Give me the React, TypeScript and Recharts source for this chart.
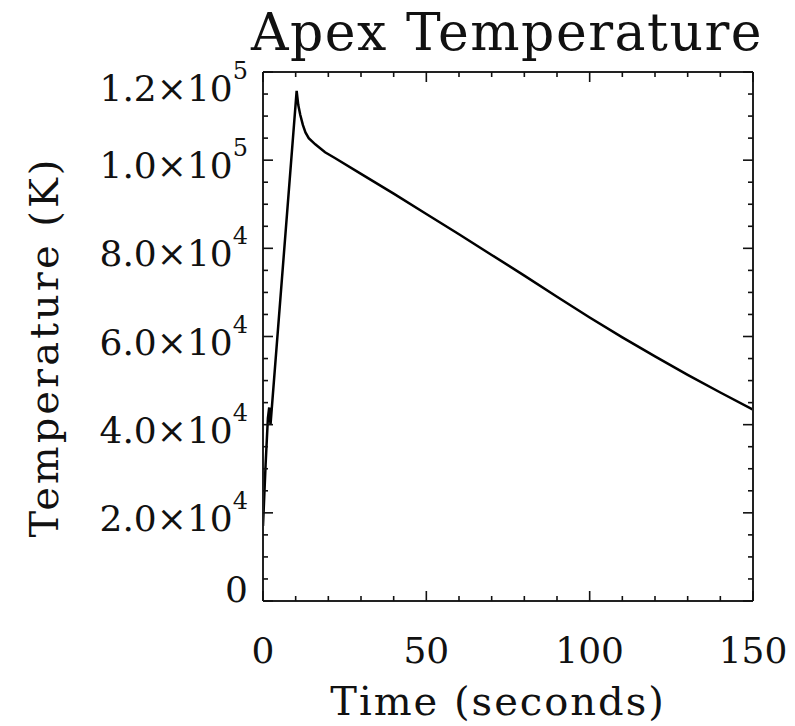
import React from "react";
import { LineChart, Line, XAxis, YAxis } from "recharts";

const timeSeconds = [0, 0.8, 1.5, 1.9, 2.3, 10.3, 10.8, 11.4, 12.2, 13, 14, 16, 19, 22, 30, 40, 50, 60, 70, 80, 90, 100, 110, 120, 130, 140, 150];
const apexTemperature = [17000, 31000, 41500, 43900, 40000, 115700, 112500, 110300, 108000, 106300, 105000, 103600, 101800, 100500, 96900, 92400, 87800, 83200, 78500, 73800, 69000, 64300, 59800, 55500, 51300, 47300, 43400];

const xTickValues = [0, 10, 20, 30, 40, 50, 60, 70, 80, 90, 100, 110, 120, 130, 140, 150];
const yTickValues = [0, 5000, 10000, 15000, 20000, 25000, 30000, 35000, 40000, 45000, 50000, 55000, 60000, 65000, 70000, 75000, 80000, 85000, 90000, 95000, 100000, 105000, 110000, 115000, 120000];

const chartTitle = "Apex Temperature";
const xTitle = "Time (seconds)";
const yTitle = "Temperature (K)";

const data = timeSeconds.map((t, i) => ({ t, T: apexTemperature[i] }));

const FONT = "'DejaVu Serif', serif";
const INK = "#111";
const X_MAX = 150;
const Y_MAX = 120000;

function sciParts(v: number) {
  if (v === 0) return { m: "0", e: "" };
  const e = Math.floor(Math.log10(v) + 1e-9);
  const m = (v / Math.pow(10, e)).toFixed(1);
  return { m: m + "\u00d710", e: String(e) };
}

const isMajorY = (v: number) => v % 20000 === 0;
const isMajorX = (v: number) => v % 50 === 0;

const LeftTick = (props: any) => {
  const { x, y, payload } = props;
  const v = payload.value;
  const major = isMajorY(v);
  const len = major ? 10 : 5;
  const parts = sciParts(v);
  let base = y + 18;
  if (v === 0) base = y + 1;
  if (v === Y_MAX) base = y + 29;
  return (
    <g>
      <line x1={x} y1={y} x2={x + len} y2={y} stroke={INK} strokeWidth={1.6} />
      {major && (
        <text x={x - 15} y={base} textAnchor="end" fontFamily={FONT} fontSize={36} fill={INK}>
          <tspan>{parts.m}</tspan>
          {parts.e && (
            <tspan fontSize={24} dy={-22}>
              {parts.e}
            </tspan>
          )}
        </text>
      )}
    </g>
  );
};

const RightTick = (props: any) => {
  const { x, y, payload } = props;
  const len = isMajorY(payload.value) ? 10 : 5;
  return <line x1={x} y1={y} x2={x - len} y2={y} stroke={INK} strokeWidth={1.6} />;
};

const BottomTick = (props: any) => {
  const { x, y, payload } = props;
  const v = payload.value;
  const major = isMajorX(v);
  const len = major ? 10 : 5;
  return (
    <g>
      <line x1={x} y1={y} x2={x} y2={y - len} stroke={INK} strokeWidth={1.6} />
      {major && (
        <text x={x} y={y + 62} textAnchor="middle" fontFamily={FONT} fontSize={36} fill={INK}>
          {String(v)}
        </text>
      )}
    </g>
  );
};

const TopTick = (props: any) => {
  const { x, y, payload } = props;
  const len = isMajorX(payload.value) ? 10 : 5;
  return <line x1={x} y1={y} x2={x} y2={y + len} stroke={INK} strokeWidth={1.6} />;
};

const axisLine = { stroke: "#222", strokeWidth: 2 };

export default function App() {
  return (
    <div style={{ position: "relative", width: 787, height: 718 }}>
      <LineChart
        width={787}
        height={718}
        data={data}
        margin={{ top: 63, right: 41, bottom: 0, left: 5 }}
      >
        <XAxis
          xAxisId="bottom"
          dataKey="t"
          type="number"
          domain={[0, X_MAX]}
          ticks={xTickValues}
          interval={0}
          orientation="bottom"
          height={125}
          tickSize={0}
          tickMargin={0}
          tickLine={false}
          axisLine={axisLine}
          tick={<BottomTick />}
          allowDataOverflow
        />
        <XAxis
          xAxisId="top"
          dataKey="t"
          type="number"
          domain={[0, X_MAX]}
          ticks={xTickValues}
          interval={0}
          orientation="top"
          height={1}
          tickSize={0}
          tickMargin={0}
          tickLine={false}
          axisLine={axisLine}
          tick={<TopTick />}
          allowDataOverflow
        />
        <YAxis
          yAxisId="left"
          type="number"
          domain={[0, Y_MAX]}
          ticks={yTickValues}
          interval={0}
          orientation="left"
          width={250}
          tickSize={0}
          tickMargin={0}
          tickLine={false}
          axisLine={axisLine}
          tick={<LeftTick />}
          allowDataOverflow
        />
        <YAxis
          yAxisId="right"
          type="number"
          domain={[0, Y_MAX]}
          ticks={yTickValues}
          interval={0}
          orientation="right"
          width={1}
          tickSize={0}
          tickMargin={0}
          tickLine={false}
          axisLine={axisLine}
          tick={<RightTick />}
          allowDataOverflow
        />
        <Line
          xAxisId="bottom"
          yAxisId="left"
          type="linear"
          dataKey="T"
          stroke="#000"
          strokeWidth={2.5}
          dot={false}
          isAnimationActive={false}
        />
      </LineChart>
      <svg
        width={787}
        height={726}
        style={{ position: "absolute", left: 0, top: -8, pointerEvents: "none", overflow: "visible" }}
      >
        <text x={499} y={50} textAnchor="middle" fontFamily={FONT} fontSize={52} letterSpacing={1.5} fill={INK}>
          {chartTitle}
        </text>
        <text x={490} y={715} textAnchor="middle" fontFamily={FONT} fontSize={40} letterSpacing={2} fill={INK}>
          {xTitle}
        </text>
        <text
          x={50}
          y={347}
          textAnchor="middle"
          fontFamily={FONT}
          fontSize={40}
          letterSpacing={3}
          fill={INK}
          transform="rotate(-90 50 347)"
        >
          {yTitle}
        </text>
      </svg>
    </div>
  );
}
